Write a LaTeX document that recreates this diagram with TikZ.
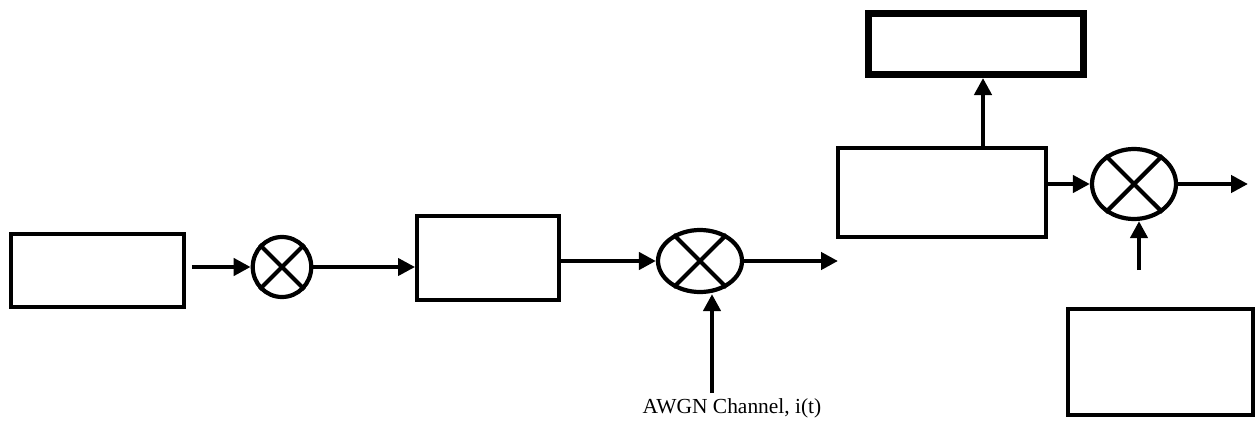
\documentclass[tikz,border=0pt]{standalone}
\usepackage{fontspec}
\setmainfont{Liberation Serif}
\usetikzlibrary{arrows.meta,shapes.geometric}
\tikzset{
  blk/.style={draw, line width=2.2pt, inner sep=0pt},
  mix/.style={draw, ellipse, line width=2.4pt, inner sep=0pt},
  flow/.style={line width=2.6pt, -{Triangle[length=0.34cm,width=0.34cm]}},
}
\newcommand{\cross}[1]{\draw[line width=2.4pt] (#1.45) -- (#1.225) (#1.135) -- (#1.315);}
\begin{document}
\begin{tikzpicture}
    \useasboundingbox (0,0) rectangle (25.12,8.42);
        % transmitter side
        \node[blk, minimum width=3.46cm, minimum height=1.46cm] (src) at (1.95,3.01) {};
        \node[mix, minimum width=1.17cm, minimum height=1.2cm] (mixA) at (5.64,3.08) {};
        \node[blk, minimum width=2.84cm, minimum height=1.68cm] (mod) at (9.76,3.26) {};
        \node[mix, minimum width=1.68cm, minimum height=1.24cm] (mixB) at (14.0,3.2) {};
        \coordinate (out) at (16.76,3.2);
        \coordinate (noise) at (14.24,0.56);
        \node[font=\fontsize{12.2}{14}\selectfont, anchor=north, inner sep=0pt] (awgn) at (14.64,0.46) {AWGN Channel, i(t)};
        % receiver side
        \node[blk, minimum width=4.16cm, minimum height=1.78cm] (rx) at (18.84,4.57) {};
        \node[draw, line width=3.8pt, inner sep=0pt, minimum width=4.3cm, minimum height=1.22cm] (top) at (19.52,7.54) {};
        \node[mix, minimum width=1.68cm, minimum height=1.4cm] (mixC) at (22.68,4.74) {};
        \node[blk, minimum width=3.7cm, minimum height=2.12cm] (osc) at (23.21,1.18) {};
        \coordinate (end) at (24.96,4.74);
        \coordinate (lo) at (22.78,3.02);
        \coordinate (up) at (19.66,6.86);
        \cross{mixA}
        \cross{mixB}
        \cross{mixC}
        \draw[flow] ([xshift=0.12cm]src.east |- mixA.west) -- (mixA.west);
        \draw[flow, line width=2.2pt] (mixA.east) -- (mixA.east -| mod.west);
        \draw[flow] (mod.east |- mixB.west) -- (mixB.west);
        \draw[flow] (mixB.east) -- (out);
        \draw[flow] (noise) -- (noise |- mixB.south);
        \draw[flow] (up |- rx.north) -- (up);
        \draw[flow] (rx.east |- mixC.west) -- (mixC.west);
        \draw[flow] (mixC.east) -- (end);
        \draw[flow] (lo) -- (lo |- mixC.south);
    \end{tikzpicture}
\end{document}
